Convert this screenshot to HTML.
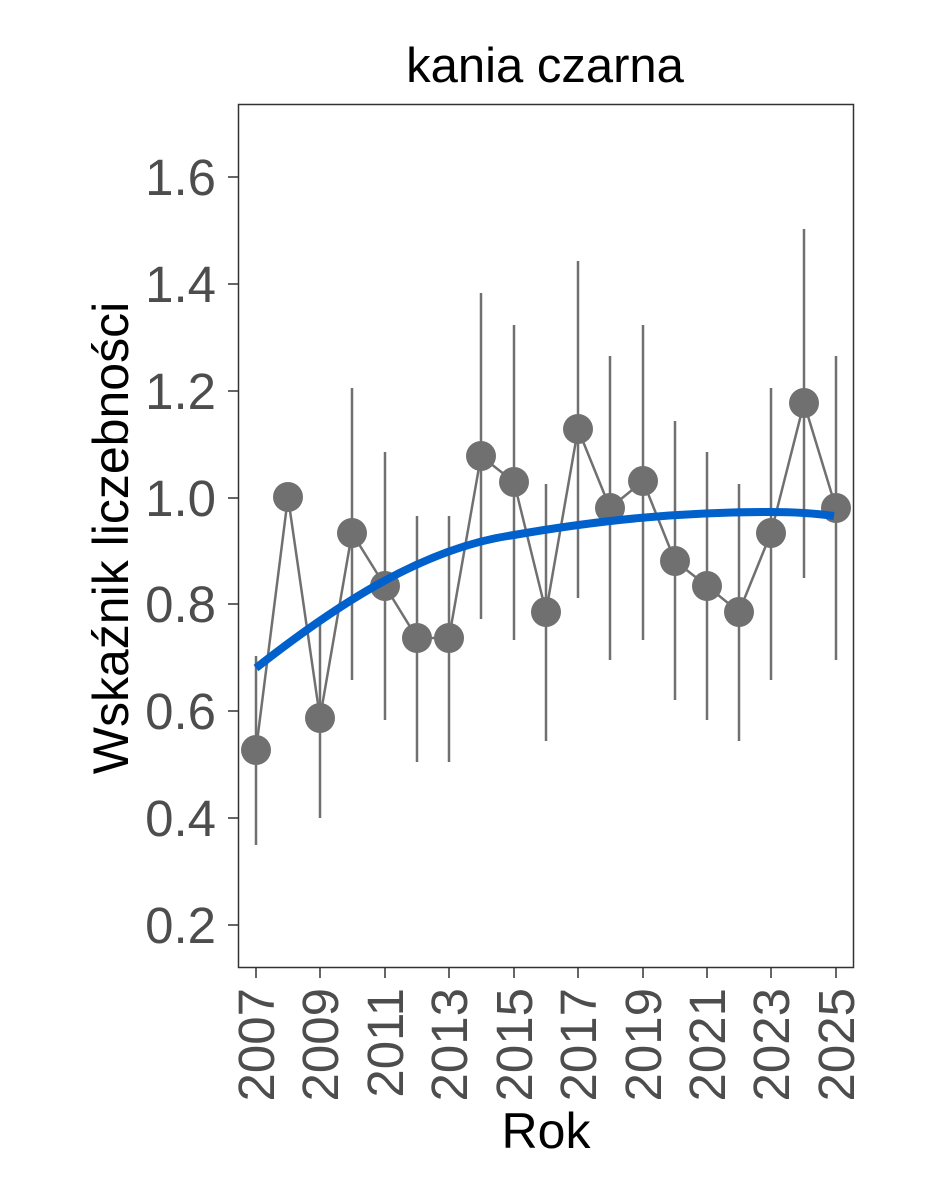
<!DOCTYPE html>
<html><head><meta charset="utf-8"><style>body{margin:0;background:#fff}</style></head><body>
<svg width="944" height="1181" xmlns="http://www.w3.org/2000/svg" font-family="Liberation Sans, sans-serif">
<rect width="944" height="1181" fill="#fff"/>
<text x="545" y="82" font-size="49" text-anchor="middle" fill="#000">kania czarna</text>
<rect x="238.5" y="104.5" width="615" height="863" fill="none" stroke="#333" stroke-width="1.5"/>
<g font-size="51" fill="#4d4d4d" text-anchor="end">
<text x="216" y="195">1.6</text><text x="216" y="302">1.4</text><text x="216" y="409">1.2</text>
<text x="216" y="516">1.0</text><text x="216" y="622">0.8</text><text x="216" y="729">0.6</text>
<text x="216" y="836">0.4</text><text x="216" y="943">0.2</text>
</g>
<g stroke="#333" stroke-width="1.5">
<line x1="228" x2="238" y1="177" y2="177"/><line x1="228" x2="238" y1="284" y2="284"/><line x1="228" x2="238" y1="391" y2="391"/><line x1="228" x2="238" y1="498" y2="498"/><line x1="228" x2="238" y1="604" y2="604"/><line x1="228" x2="238" y1="711" y2="711"/><line x1="228" x2="238" y1="818" y2="818"/><line x1="228" x2="238" y1="925" y2="925"/>
<line x1="256" x2="256" y1="968" y2="978"/><line x1="320" x2="320" y1="968" y2="978"/><line x1="385" x2="385" y1="968" y2="978"/><line x1="449" x2="449" y1="968" y2="978"/><line x1="514" x2="514" y1="968" y2="978"/><line x1="578" x2="578" y1="968" y2="978"/><line x1="643" x2="643" y1="968" y2="978"/><line x1="707" x2="707" y1="968" y2="978"/><line x1="771" x2="771" y1="968" y2="978"/><line x1="836" x2="836" y1="968" y2="978"/>
</g>
<g font-size="51" fill="#4d4d4d" text-anchor="end">
<text transform="translate(274,988) rotate(-90)">2007</text><text transform="translate(338,988) rotate(-90)">2009</text><text transform="translate(403,988) rotate(-90)">2011</text><text transform="translate(467,988) rotate(-90)">2013</text><text transform="translate(532,988) rotate(-90)">2015</text><text transform="translate(596,988) rotate(-90)">2017</text><text transform="translate(661,988) rotate(-90)">2019</text><text transform="translate(725,988) rotate(-90)">2021</text><text transform="translate(789,988) rotate(-90)">2023</text><text transform="translate(854,988) rotate(-90)">2025</text>
</g>
<text x="546" y="1148" font-size="50" text-anchor="middle">Rok</text>
<text transform="translate(128,538) rotate(-90)" font-size="50" text-anchor="middle">Wskaźnik liczebności</text>
<g stroke="#707070" stroke-width="2.5">
<line x1="256" x2="256" y1="656" y2="845"/><line x1="320" x2="320" y1="617" y2="818"/><line x1="352" x2="352" y1="388" y2="680"/><line x1="385" x2="385" y1="452" y2="720"/><line x1="417" x2="417" y1="516" y2="762"/><line x1="449" x2="449" y1="516" y2="762"/><line x1="481" x2="481" y1="293" y2="619"/><line x1="514" x2="514" y1="325" y2="640"/><line x1="546" x2="546" y1="484" y2="741"/><line x1="578" x2="578" y1="261" y2="598"/><line x1="610" x2="610" y1="356" y2="660"/><line x1="643" x2="643" y1="325" y2="640"/><line x1="675" x2="675" y1="421" y2="700"/><line x1="707" x2="707" y1="452" y2="720"/><line x1="739" x2="739" y1="484" y2="741"/><line x1="771" x2="771" y1="388" y2="680"/><line x1="804" x2="804" y1="229" y2="578"/><line x1="836" x2="836" y1="356" y2="660"/>
<polyline fill="none" points="256,750 288,497 320,718 352,533 385,586 417,638 449,638 481,456 514,482 546,612 578,429 610,508 643,481 675,561 707,586 739,612 771,533 804,403 836,508"/>
</g>
<g fill="#707070">
<circle cx="256" cy="750" r="15"/><circle cx="288" cy="497" r="15"/><circle cx="320" cy="718" r="15"/><circle cx="352" cy="533" r="15"/><circle cx="385" cy="586" r="15"/><circle cx="417" cy="638" r="15"/><circle cx="449" cy="638" r="15"/><circle cx="481" cy="456" r="15"/><circle cx="514" cy="482" r="15"/><circle cx="546" cy="612" r="15"/><circle cx="578" cy="429" r="15"/><circle cx="610" cy="508" r="15"/><circle cx="643" cy="481" r="15"/><circle cx="675" cy="561" r="15"/><circle cx="707" cy="586" r="15"/><circle cx="739" cy="612" r="15"/><circle cx="771" cy="533" r="15"/><circle cx="804" cy="403" r="15"/><circle cx="836" cy="508" r="15"/>
</g>
<path d="M256,668 C330,610 420,548 514,535 C600,520 680,512 771,512 C800,512 820,514 834,516" fill="none" stroke="#0060cc" stroke-width="8"/>
</svg>
</body></html>
